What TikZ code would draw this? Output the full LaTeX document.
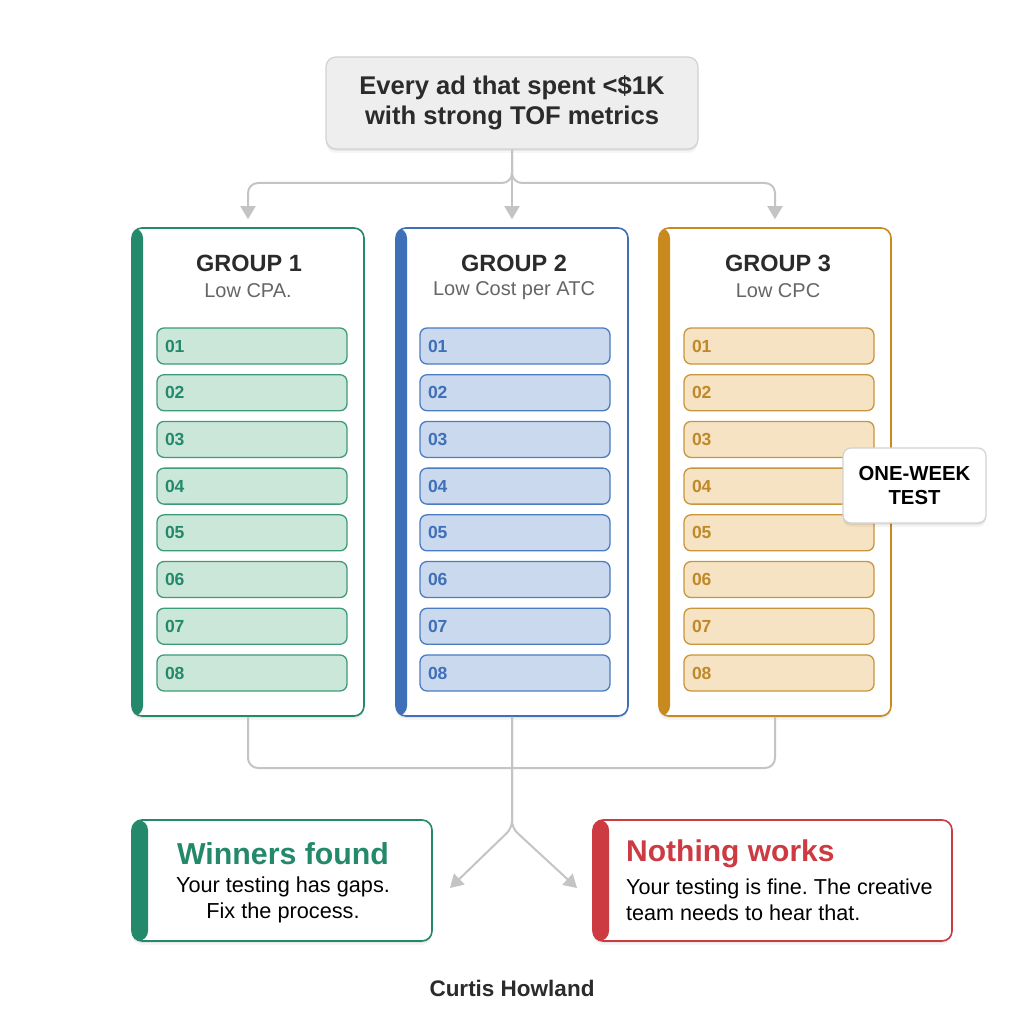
\documentclass[tikz,border=0pt]{standalone}
\usepackage{fontspec}
\setmainfont{Liberation Sans}
\usetikzlibrary{arrows.meta,shadows}
\definecolor{lineg}{HTML}{C4C4C4}
\definecolor{ink}{HTML}{2B2B2B}
\definecolor{subg}{HTML}{666666}
\definecolor{gG}{HTML}{23896A}
\definecolor{gGf}{HTML}{CBE7DA}
\definecolor{gGb}{HTML}{3E9B79}
\definecolor{gB}{HTML}{3E6FB8}
\definecolor{gBf}{HTML}{CAD9EE}
\definecolor{gBb}{HTML}{4B7CC2}
\definecolor{gO}{HTML}{C88A1F}
\definecolor{gOf}{HTML}{F6E3C3}
\definecolor{gOb}{HTML}{C9963D}
\definecolor{gOt}{HTML}{BF8828}
\definecolor{rR}{HTML}{CC3A42}
\definecolor{topf}{HTML}{EEEEEE}
\definecolor{topb}{HTML}{D2D2D2}
\tikzset{
  shad/.style={drop shadow={shadow xshift=0pt,shadow yshift=-4pt,opacity=0.04,fill=black},
               drop shadow={shadow xshift=0pt,shadow yshift=-2pt,opacity=0.06,fill=black}},
  conn/.style={draw=lineg,line width=2pt,rounded corners=10pt},
  arr/.style={conn,-{Triangle[width=15pt,length=13pt]},shorten >=8pt},
  grp/.style={draw=#1,line width=1.6pt,rounded corners=10pt,fill=white,shad,
    minimum width=232pt,minimum height=488pt,inner sep=0pt,
    path picture={\fill[#1] (path picture bounding box.north west) rectangle ([xshift=11pt]path picture bounding box.south west);}},
  res/.style={draw=#1,line width=1.6pt,rounded corners=10pt,fill=white,shad,
    minimum height=121pt,inner sep=0pt,
    path picture={\fill[#1] (path picture bounding box.north west) rectangle ([xshift=16pt]path picture bounding box.south west);}},
  gtitle/.style={font=\bfseries\fontsize{23.5}{27}\selectfont,text=ink,inner sep=0pt},
  gsub/.style={font=\fontsize{20}{24}\selectfont,text=subg,inner sep=0pt},
  row/.style={line width=1.3pt,rounded corners=7pt,minimum width=190pt,minimum height=36pt,
    inner xsep=8pt,inner ysep=0pt,text width=174pt,align=left,font=\bfseries\fontsize{17.5}{20}\selectfont},
  rowG/.style={row,draw=gGb,fill=gGf,text=gG},
  rowB/.style={row,draw=gBb,fill=gBf,text=gB},
  rowO/.style={row,draw=gOb,fill=gOf,text=gOt},
}
\begin{document}
\frenchspacing
\begin{tikzpicture}[x=1pt,y=-1pt]
\fill[white] (0,0) rectangle (1024,1024);
\useasboundingbox (0,0) rectangle (1024,1024);

% top box
\node[draw=topb,line width=1.2pt,fill=topf,rounded corners=10pt,shad,minimum width=372pt,minimum height=92pt,
  align=center,font=\bfseries\fontsize{25.6}{30}\selectfont,text=ink] (top) at (512,103)
  {Every ad that spent <\$1K\\with strong TOF metrics};

% groups
\node[grp=gG] (g1) at (248,472) {};
\node[grp=gB] (g2) at (512,472) {};
\node[grp=gO] (g3) at (775,472) {};

\node[gtitle] (t1) at (249,263) {GROUP 1};
\node[gsub] (s1) at (248,291) {Low CPA.};
\node[gtitle] (t2) at (514,263) {GROUP 2};
\node[gsub] (s2) at (514,291) {Low Cost per ATC};
\node[gtitle] (t3) at (778,263) {GROUP 3};
\node[gsub] (s3) at (778,291) {Low CPC};

\foreach \gx/\gn/\sty in {252/1/rowG,515/2/rowB,779/3/rowO}{
  \foreach \lab [count=\k] in {01,02,03,04,05,06,07,08}{
    \node[\sty] (r\gn\k) at (\gx,{346+46.71*(\k-1)}) {\lab};
  }
}

% one-week test
\node[draw=topb,line width=1.2pt,fill=white,rounded corners=8pt,shad,minimum width=143pt,minimum height=75pt,
  align=center,font=\bfseries\fontsize{20.3}{24}\selectfont,text=black] (owt) at (914.5,485.5) {ONE-WEEK\\TEST};

% top connectors
\coordinate (jt) at (512,183);
\draw[arr] (top.south) -- (jt) -- (g1.north |- jt) -- (g1.north);
\draw[arr] (top.south) -- (jt) -- (g3.north |- jt) -- (g3.north);
\draw[arr] (top.south) -- (g2.north);

% bottom connectors
\coordinate (jb) at (512,768);
\coordinate (split) at (512,828);
\coordinate (ew) at (450,888);
\coordinate (en) at (577,888);
\draw[conn] (g1.south) -- (g1.south |- jb) -- (jb);
\draw[conn] (g3.south) -- (g3.south |- jb) -- (jb);
\draw[arr,rounded corners=7pt,shorten >=0pt] (g2.south) -- (split) -- (ew);
\draw[arr,rounded corners=7pt,shorten >=0pt] (g2.south) -- (split) -- (en);

% results
\node[res=gG,minimum width=300pt] (win) at (282,880.5) {};
\node[font=\bfseries\fontsize{30.3}{32}\selectfont,text=gG,inner sep=0pt] (wt) at (283,854) {Winners found};
\node[font=\fontsize{21.7}{26}\selectfont,text=black,align=center,inner sep=0pt] (wb) at (283,900) {Your testing has gaps.\\Fix the process.};

\node[res=rR,minimum width=359pt] (noth) at (772.5,880.5) {};
\node[font=\bfseries\fontsize{30}{32}\selectfont,text=rR,inner sep=0pt,anchor=west] (nt) at (626,854) {Nothing works};
\node[font=\fontsize{21.6}{26}\selectfont,text=black,align=left,inner sep=0pt,anchor=west] (nb) at (626,900) {Your testing is fine. The creative\\team needs to hear that.};

\node[font=\bfseries\fontsize{22.5}{26}\selectfont,text=ink] (auth) at (512,988) {Curtis Howland};
\end{tikzpicture}
\end{document}
